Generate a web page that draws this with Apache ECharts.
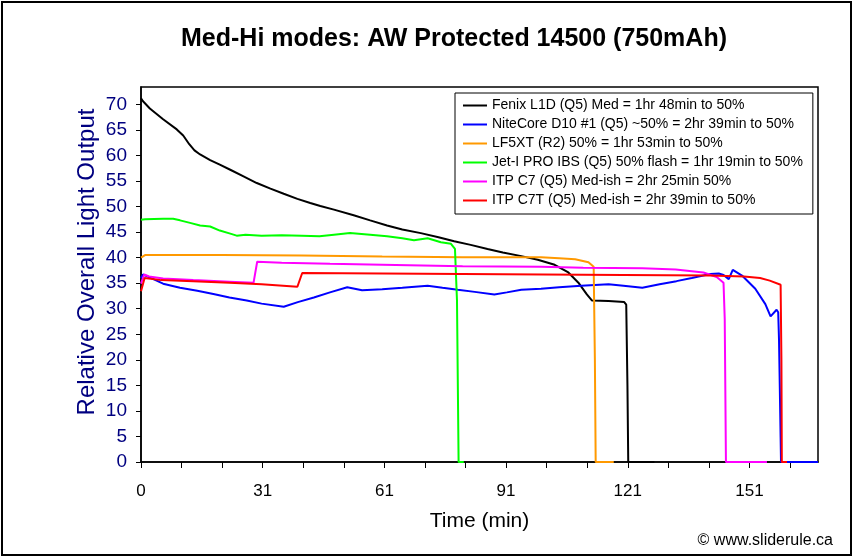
<!DOCTYPE html>
<html>
<head>
<meta charset="utf-8">
<script src="https://cdn.jsdelivr.net/npm/echarts@6/dist/echarts.min.js"></script>
<style>html,body{margin:0;padding:0;background:#fff;}#c{width:855px;height:560px;}</style>
</head>
<body>
<div id="c"></div>
<script>
// ---- data ----
const seriesNames = [
  'Fenix L1D (Q5) Med = 1hr 48min to 50%',
  'NiteCore D10 #1 (Q5) ~50% = 2hr 39min to 50%',
  'LF5XT (R2) 50% = 1hr 53min to 50%',
  'Jet-I PRO IBS (Q5) 50% flash = 1hr 19min to 50%',
  'ITP C7 (Q5) Med-ish = 2hr 25min 50%',
  'ITP C7T (Q5) Med-ish = 2hr 39min to 50%'
];
const xTickLabels = ['0', '31', '61', '91', '121', '151'];

const fenix = [[0,71.2],[0.5,70.6],[2.2,69.2],[5.5,67.1],[8.9,65.1],[10.5,63.9],[12.0,62.2],[13.3,61.0],[14.7,60.2],[17.2,59.1],[19.6,58.2],[22.2,57.2],[25.5,55.9],[28.8,54.6],[32.2,53.5],[35.5,52.5],[38.9,51.5],[42.1,50.7],[44.6,50.1],[48,49.4],[52.9,48.3],[57,47.3],[61.2,46.3],[65,45.5],[69.6,44.8],[74,44.0],[77.9,43.2],[82,42.5],[86.2,41.7],[90,41.0],[94.6,40.3],[98.7,39.6],[102.9,38.6],[106.3,37.1],[108.8,35.1],[110.9,32.8],[112.2,31.6],[116.3,31.5],[120.2,31.3],[120.7,30.8],[121.0,15],[121.2,0],[127.7,0]];
const nitecore = [[0,36.0],[0.5,36.7],[2,36.2],[5.5,34.9],[9.7,34.1],[14,33.5],[18,32.9],[22,32.2],[26.3,31.6],[30,31.0],[35.5,30.4],[39,31.3],[43,32.2],[47,33.2],[51.3,34.2],[55,33.6],[60,33.8],[65,34.1],[71.3,34.5],[75,34.1],[78.8,33.7],[83,33.3],[87.9,32.8],[91,33.2],[94.6,33.7],[99.5,33.9],[104,34.2],[109.5,34.5],[116.3,34.8],[120,34.5],[124.7,34.1],[129,34.8],[133.2,35.4],[137,36.0],[141.6,36.8],[143.7,36.9],[144.9,36.6],[146.2,35.8],[147.2,37.6],[149.5,36.5],[152.8,33.9],[155.3,30.9],[156.6,28.5],[158.1,29.8],[158.5,29.3],[158.7,24],[158.9,14.6],[159.1,4.8],[159.2,0],[168.4,0]];
const lf5xt = [[0,40.0],[1,40.5],[20,40.5],[40,40.4],[60,40.2],[80,40.1],[99.5,40.1],[104,39.9],[108,39.7],[111.3,39.1],[112.6,38.2],[112.9,20],[113.1,0],[117.6,0]];
const jetI = [[0,47.4],[1,47.5],[5.5,47.6],[8,47.6],[9.7,47.3],[12.2,46.8],[14.7,46.3],[17.2,46.1],[19.6,45.3],[22.2,44.7],[23.8,44.3],[26,44.5],[30,44.3],[35,44.4],[40,44.3],[44.4,44.2],[48,44.5],[52,44.8],[57,44.5],[61.2,44.2],[65,43.8],[67.9,43.4],[71.3,43.8],[74.6,43.0],[77.1,42.7],[78.1,41.7],[78.6,31.6],[79,0],[80.3,0]];
const itpC7 = [[0,34.9],[0.8,36.7],[2,36.3],[5.5,35.9],[13,35.6],[22,35.3],[28,35.1],[28.9,39.2],[35,39.0],[47,38.8],[60,38.6],[80,38.3],[99.5,38.2],[110,38.0],[124.7,37.9],[133,37.7],[139.9,37.1],[143.2,36.2],[144.9,35.1],[145.2,28],[145.5,0],[155.7,0]];
const itpC7T = [[0,33.4],[0.9,36.0],[5,35.6],[13,35.4],[22,35.1],[30,34.8],[38.9,34.3],[40.1,37.0],[60,36.9],[80,36.8],[100,36.7],[120,36.6],[141.6,36.5],[150,36.3],[154,36.0],[156.4,35.5],[159.1,34.7],[159.3,20],[159.4,0],[160.7,0]];
const seriesData = [fenix, nitecore, lf5xt, jetI, itpC7, itpC7T];
const seriesColors = ['#000000', '#0000FF', '#FF9900', '#00FF00', '#FF00FF', '#FF0000'];

const X_TICK = 10.09;
const FONT = "'Liberation Sans', Arial, sans-serif";

const chart = echarts.init(document.getElementById('c'), null, {renderer: 'canvas'});
chart.setOption({
  animation: false,
  backgroundColor: '#ffffff',
  textStyle: {fontFamily: FONT},
  title: {
    text: 'Med-Hi modes: AW Protected 14500 (750mAh)',
    left: 449, top: 22, textAlign: 'center',
    textStyle: {fontSize: 25, fontWeight: 'bold', color: '#000', fontFamily: FONT}
  },
  grid: {left: 141, right: 37, top: 87, bottom: 98, show: true, borderColor: '#000', borderWidth: 1.5, backgroundColor: '#fff'},
  legend: {
    orient: 'vertical', left: 455, top: 93,
    backgroundColor: '#fff', borderColor: '#000', borderWidth: 1,
    padding: [5, 10, 6, 8], itemGap: 4, itemWidth: 24, itemHeight: 2, icon: 'rect',
    textStyle: {fontSize: 14, color: '#000', fontFamily: FONT, lineHeight: 15},
    data: seriesNames
  },
  xAxis: {
    type: 'value', min: 0, max: 168.4, interval: X_TICK,
    name: 'Time (min)', nameLocation: 'middle', nameGap: 49,
    nameTextStyle: {fontSize: 21, color: '#000', fontFamily: FONT},
    axisLine: {show: true, lineStyle: {color: '#000', width: 1.5}},
    axisTick: {show: true, length: 6, lineStyle: {color: '#000'}},
    splitLine: {show: false},
    axisLabel: {
      margin: 21, fontSize: 17, color: '#000', fontFamily: FONT,
      showMaxLabel: false,
      formatter: function (v) {
        const i = Math.round(v / X_TICK);
        if (Math.abs(v - i * X_TICK) > 0.01) return '';
        if (i % 3 !== 0) return '';
        const k = i / 3;
        return k < xTickLabels.length ? xTickLabels[k] : '';
      }
    }
  },
  yAxis: {
    type: 'value', min: 0, max: 73.4, interval: 5,
    axisLine: {show: true, lineStyle: {color: '#000', width: 1.5}},
    axisTick: {show: true, length: 5, lineStyle: {color: '#000'}},
    splitLine: {show: false},
    axisLabel: {margin: 14, fontSize: 19, color: '#000080', fontFamily: FONT, showMaxLabel: false,
      formatter: function (v) { return (Math.abs(v % 5) < 0.001) ? String(v) : ''; }}
  },
  graphic: [
    {type: 'rect', shape: {x: 2, y: 2, width: 849, height: 553}, style: {fill: 'none', stroke: '#000', lineWidth: 2}, silent: true},
    {type: 'text', x: 87, y: 262, rotation: Math.PI / 2,
     style: {text: 'Relative Overall Light Output', fontSize: 24, fill: '#000080', fontFamily: FONT, align: 'center', verticalAlign: 'middle'}},
    {type: 'text', right: 22, top: 533,
     style: {text: '\u00a9 www.sliderule.ca', fontSize: 16, fill: '#000', fontFamily: FONT}}
  ],
  series: seriesNames.map(function (n, i) {
    return {
      name: n, type: 'line', data: seriesData[i], showSymbol: false, symbol: 'none',
      lineStyle: {color: seriesColors[i], width: 2}, itemStyle: {color: seriesColors[i]},
      emphasis: {disabled: true}
    };
  })
});
</script>
</body>
</html>
